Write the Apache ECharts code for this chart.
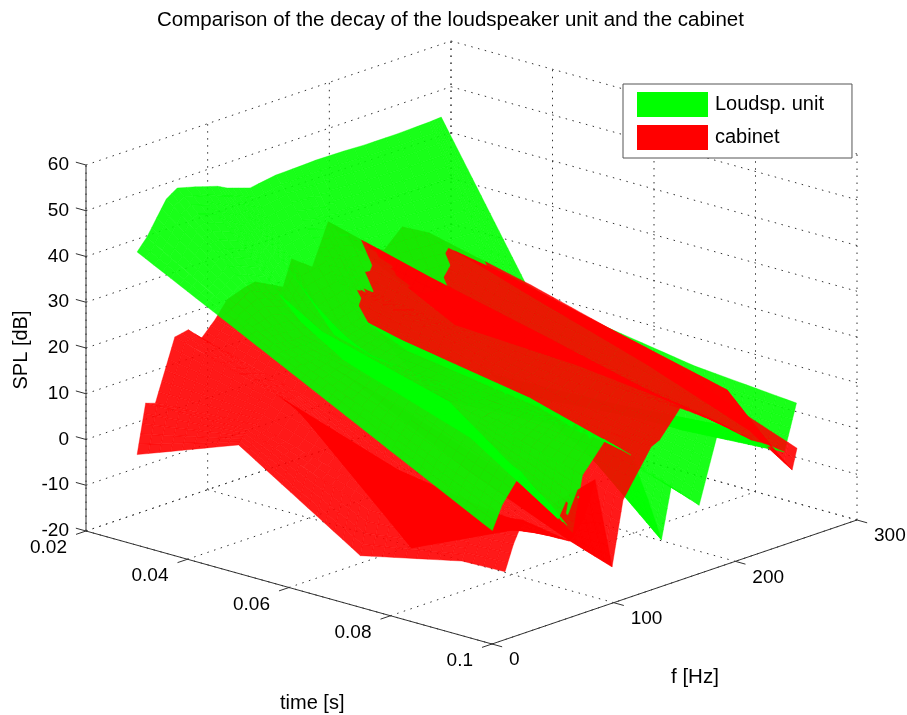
<!DOCTYPE html>
<html><head><meta charset="utf-8">
<style>html,body{margin:0;padding:0;background:#fff}#c{width:907px;height:715px}</style>
<script src="https://cdn.jsdelivr.net/npm/echarts@6/dist/echarts.min.js"></script>
</head><body><div id="c"></div>
<script>
const titleText = 'Comparison of the decay of the loudspeaker unit and the cabinet';
const timeTicks = [0.02, 0.04, 0.06, 0.08, 0.1];
const timeLabels = ['0.02', '0.04', '0.06', '0.08', '0.1'];
const freqTicks = [0, 100, 200, 300];
const splTicks = [-20, -10, 0, 10, 20, 30, 40, 50, 60];

const greenTimes = [0.02, 0.0366, 0.045, 0.07, 0.09];
const greenFreqs = [42, 50, 66, 75, 90, 108, 116, 135, 156, 170, 181, 189, 212, 229, 255, 282, 292];
const greenSpl = [
  [37.2, 27.9, 23.2, 9.1, -2.1],
  [39.7, 29.0, 24.0, 12.0, 2.8],
  [46.6, 31.8, 23.5, 17.0, 8.5],
  [48.2, 30.6, 23.6, 17.3, 4.7],
  [47.1, 28.6, 23.1, 15.5, -0.8],
  [45.6, 21.0, 15.3, 6.0, -8.4],
  [44.5, 25.1, 17.2, 9.6, 3.3],
  [42.8, 15.8, 13.3, 10.6, 9.3],
  [43.7, 17.4, 15.2, 10.4, 4.1],
  [43.8, 14.0, 7.2, 4.4, -6.9],
  [43.9, 9.0, 1.0, 3.3, -16.7],
  [44.0, 7.0, -0.7, 0.9, -5.9],
  [43.9, 5.0, -1.7, -2.1, -11.9],
  [43.7, 5.0, 1.2, 2.3, 4.1],
  [43.7, 4.0, -5.6, -3.3, -1.1],
  [43.9, 3.0, -7.0, -8.0, -6.6],
  [44.1, 12.9, 9.6, 5.1, 3.2]
];

const redTimes = [0.02, 0.04, 0.064, 0.084, 0.0925];
const redFreqs = [42, 49, 57, 73, 84, 95, 106, 116, 130, 139, 162, 169, 186, 199, 220, 245, 260, 278, 282];
const redSpl = [
  [-7.1, 1.2, -15.6, -10.6, -10.3],
  [3.5, 3.8, -6.3, -5.6, -4.9],
  [2.8, 4.2, -3.7, -1.9, -0.4],
  [15.8, 9.3, 0.3, -3.3, -3.8],
  [16.4, 7.3, -17.7, -7.6, -6.1],
  [13.6, 7.3, -1.7, -8.6, -8.4],
  [16.6, 11.4, 1.8, -8.5, -4.7],
  [20.1, 12.0, 3.1, -5.0, 3.1],
  [21.4, 8.5, -4.9, -14.0, -17.2],
  [21.9, 14.3, 5.3, -0.5, -3.4],
  [18.7, 14.4, 8.7, 6.8, 6.1],
  [24.2, 19.2, 12.4, 8.3, 7.0],
  [20.9, 17.7, 14.2, 12.7, 12.5],
  [29.6, 23.7, 17.4, 11.9, 10.0],
  [22.7, 11.4, 10.0, 7.5, 5.9],
  [19.3, 11.3, 7.7, 2.3, 0.1],
  [23.0, 18.9, 12.5, 7.1, -2.3],
  [20.3, 13.1, 4.8, -3.3, -9.4],
  [19.7, 14.5, 7.2, -1.5, -5.0]
];

// axes ranges and the fixed 3D view of the plot box
const T0 = 0.02, T1 = 0.1, F0 = 0, F1 = 300, Z0 = -20, Z1 = 60;
const norm = (t, f, z) => [(t - T0) / (T1 - T0), (f - F0) / (F1 - F0), (z - Z0) / (Z1 - Z0)];
function project(t, f, z) {
  const [u, v, w] = norm(t, f, z);
  return [86 + 406 * u + 365 * v, 531 + 113 * u - 124 * v - 366 * w];
}
function depth(t, f, z) {
  const [u, v, w] = norm(t, f, z);
  return 0.55 * u - 0.61 * v + 0.38 * w;
}
const lerp = (a, b, s) => a + (b - a) * s;
const screenLen = (a, b) => {
  const p = project(a[0], a[1], a[2]), q = project(b[0], b[1], b[2]);
  return Math.hypot(p[0] - q[0], p[1] - q[1]);
};

function faces(times, freqs, spl, surf) {
  const out = [];
  for (let i = 0; i < freqs.length - 1; i++) for (let j = 0; j < times.length - 1; j++) {
    const at = (a, b) => {
      const z = lerp(lerp(spl[i][j], spl[i + 1][j], a), lerp(spl[i][j + 1], spl[i + 1][j + 1], a), b);
      return [lerp(times[j], times[j + 1], b), lerp(freqs[i], freqs[i + 1], a), z];
    };
    const nF = Math.min(24, Math.ceil(Math.max(screenLen(at(0, 0), at(1, 0)), screenLen(at(0, 1), at(1, 1))) / 12));
    const nT = Math.min(24, Math.ceil(Math.max(screenLen(at(0, 0), at(0, 1)), screenLen(at(1, 0), at(1, 1))) / 12));
    for (let p = 0; p < nF; p++) for (let q = 0; q < nT; q++) {
      const a = at(p / nF, q / nT), b = at((p + 1) / nF, q / nT),
            c = at((p + 1) / nF, (q + 1) / nT), d = at(p / nF, (q + 1) / nT),
            m = at((p + .5) / nF, (q + .5) / nT);
      out.push({ surf, pts: [a, b, c, d], key: depth(m[0], m[1], m[2]) });
    }
  }
  return out;
}
const all = faces(greenTimes, greenFreqs, greenSpl, 0).concat(faces(redTimes, redFreqs, redSpl, 1));
all.sort((x, y) => x.key - y.key);
all.forEach((f, i) => f.rank = i + 1);
const toRow = f => f.pts.flat().concat(f.rank);
const greenRows = all.filter(f => f.surf === 0).map(toRow);
const redRows = all.filter(f => f.surf === 1).map(toRow);

function faceItem(color) {
  return (params, api) => {
    const pts = [];
    for (let k = 0; k < 4; k++) {
      pts.push(api.coord(project(api.value(k * 3), api.value(k * 3 + 1), api.value(k * 3 + 2))));
    }
    return {
      type: 'polygon', shape: { points: pts }, z2: api.value(12), silent: true,
      style: { fill: color, stroke: color, lineWidth: 0.4, opacity: 0.9 }
    };
  };
}

// frame: grid lines, axis lines, ticks
const gridLines = [], axisLines = [];
splTicks.forEach(z => {
  gridLines.push([T0, F0, z, T0, F1, z]);
  gridLines.push([T0, F1, z, T1, F1, z]);
});
freqTicks.forEach(f => {
  gridLines.push([T0, f, Z0, T0, f, Z1]);
  gridLines.push([T0, f, Z0, T1, f, Z0]);
});
timeTicks.forEach(t => {
  gridLines.push([t, F1, Z0, t, F1, Z1]);
  gridLines.push([t, F0, Z0, t, F1, Z0]);
});
axisLines.push([T0, F0, Z0, T0, F0, Z1], [T0, F0, Z0, T1, F0, Z0], [T1, F0, Z0, T1, F1, Z0]);
splTicks.forEach(z => axisLines.push([T0, F0, z, T0 - 0.002, F0, z]));
timeTicks.forEach(t => axisLines.push([t, F0, Z0, t, F0 - 8.2, Z0]));
freqTicks.forEach(f => axisLines.push([T1, f, Z0, T1 + 0.002, f, Z0]));

const lineItem = (style) => (params, api) => {
  const a = api.coord(project(api.value(0), api.value(1), api.value(2)));
  const b = api.coord(project(api.value(3), api.value(4), api.value(5)));
  return { type: 'line', shape: { x1: a[0], y1: a[1], x2: b[0], y2: b[1] }, silent: true, style };
};

const FONT = '"Liberation Sans", Arial, sans-serif';
const labels = [];
splTicks.forEach(z => labels.push({ text: String(z), pos: [T0, F0, z], dx: -17, dy: 0, align: 'right' }));
timeTicks.forEach((t, i) => labels.push({ text: timeLabels[i], pos: [t, F0, Z0], dx: -19, dy: 17, align: 'right' }));
freqTicks.forEach(f => labels.push({ text: String(f), pos: [T1, f, Z0], dx: 17, dy: 16, align: 'left' }));

const chart = echarts.init(document.getElementById('c'), null, { renderer: 'canvas' });
chart.setOption({
  animation: false,
  backgroundColor: '#fff',
  title: {
    text: titleText, left: 152, top: 5,
    textStyle: { fontFamily: FONT, fontSize: 20.5, fontWeight: 'normal', color: '#000' }
  },
  legend: {
    orient: 'vertical', left: 623, top: 84, selectedMode: false, z: 20,
    data: ['Loudsp. unit', 'cabinet'], icon: 'rect',
    itemWidth: 71, itemHeight: 25, itemGap: 8,
    padding: [8, 28, 8, 14], backgroundColor: '#fff', borderColor: '#555', borderWidth: 1,
    textStyle: { fontFamily: FONT, fontSize: 20, color: '#000', padding: [0, 0, 0, 2] }
  },
  grid: { left: 0, right: 0, top: 0, bottom: 0 },
  xAxis: { type: 'value', min: 0, max: 907, show: false },
  yAxis: { type: 'value', min: 0, max: 715, inverse: true, show: false },
  series: [
    { type: 'custom', name: 'grid', z: 1, silent: true, data: gridLines, progressive: 0,
      renderItem: lineItem({ stroke: '#333', lineWidth: 1, lineDash: [1.5, 5.5] }) },
    { type: 'custom', name: 'axes', z: 1, silent: true, data: axisLines, progressive: 0,
      renderItem: lineItem({ stroke: '#333', lineWidth: 1 }) },
    { type: 'custom', name: 'ticks', z: 1, silent: true, progressive: 0,
      data: labels.map((l, i) => [i]),
      renderItem: (params, api) => {
        const l = labels[api.value(0)], c = api.coord(project(l.pos[0], l.pos[1], l.pos[2]));
        return { type: 'text', silent: true, x: c[0] + l.dx, y: c[1] + l.dy,
          style: { text: l.text, textAlign: l.align, textVerticalAlign: 'middle', font: '19px ' + FONT, fill: '#000' } };
      } },
    { type: 'custom', name: 'Loudsp. unit', z: 2, data: greenRows, progressive: 0, silent: true,
      itemStyle: { color: '#00ff00' }, renderItem: faceItem('#00ff00') },
    { type: 'custom', name: 'cabinet', z: 2, data: redRows, progressive: 0, silent: true,
      itemStyle: { color: '#ff0000' }, renderItem: faceItem('#ff0000') }
  ],
  graphic: [
    { type: 'text', left: 280, top: 693, style: { text: 'time [s]', font: '20px ' + FONT, fill: '#000' } },
    { type: 'text', left: 671, top: 667, style: { text: 'f [Hz]', font: '20.5px ' + FONT, fill: '#000' } },
    { type: 'text', x: 21, y: 350, rotation: Math.PI / 2, style: { text: 'SPL [dB]', font: '20px ' + FONT, fill: '#000', textAlign: 'center', textVerticalAlign: 'middle' } }
  ]
});
</script></body></html>
